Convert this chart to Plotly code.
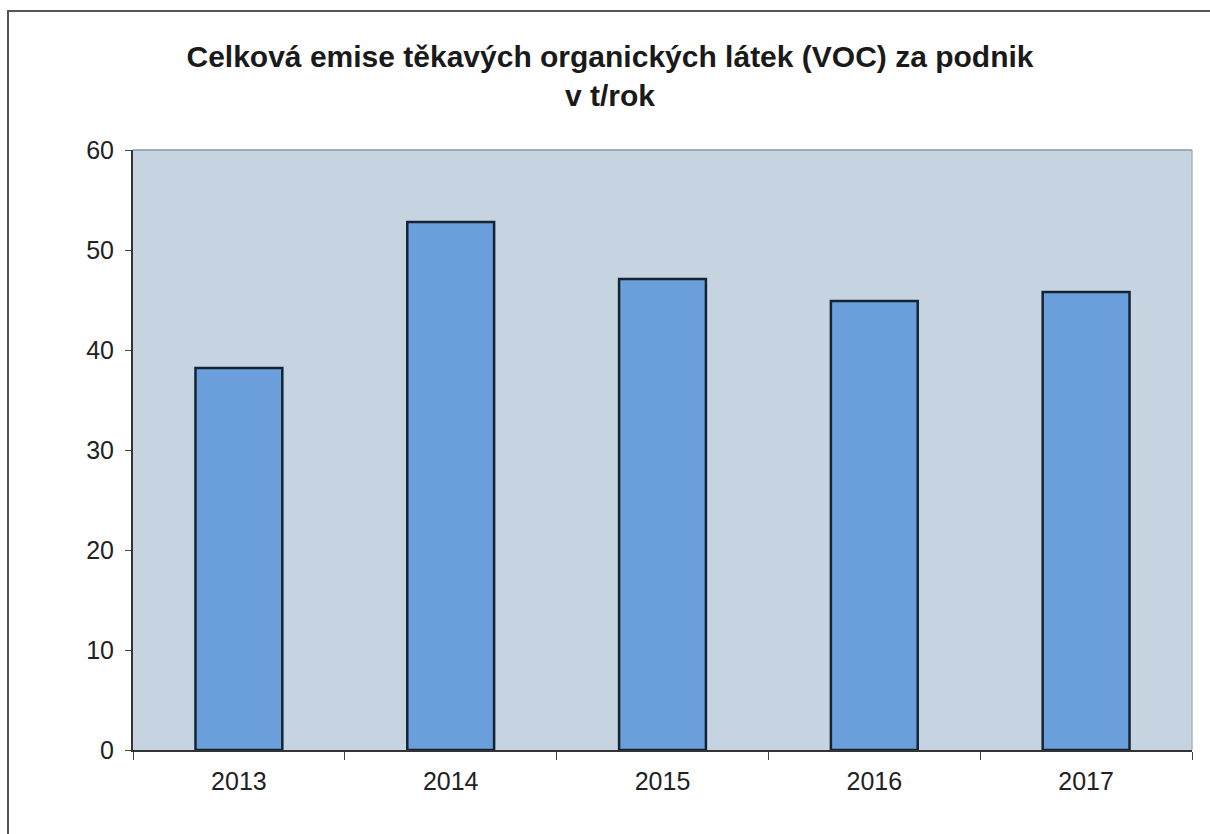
import plotly.graph_objects as go

years = ["2013", "2014", "2015", "2016", "2017"]
emissions = [38.2, 52.8, 47.1, 44.9, 45.8]
y_ticks = [0, 10, 20, 30, 40, 50, 60]

W, H = 1210, 834
L, R, T, B = 133, 18, 150, 84
pw, ph = W - L - R, H - T - B

def px_x(p):
    return (p - L) / pw

def px_y(p):
    return (H - B - p) / ph

fig = go.Figure(go.Bar(
    x=years, y=emissions, width=0.41,
    marker=dict(color="#6a9fdc", line=dict(color="#152433", width=2.5)),
))

fig.update_layout(
    width=W, height=H,
    margin=dict(l=L, r=R, t=T, b=B),
    paper_bgcolor="white",
    plot_bgcolor="#c6d4e1",
    showlegend=False,
    font=dict(family="Liberation Sans, Arial, sans-serif", color="#222222", size=25),
    title=dict(
        text="<b>Celková emise těkavých organických látek (VOC) za podnik<br>v t/rok</b>",
        x=610 / W, xanchor="center", y=1 - 67 / H, yanchor="top",
        font=dict(size=30, color="#1a1a1a"),
    ),
    xaxis=dict(
        type="category", tickson="boundaries", ticks="outside", ticklen=8,
        tickcolor="#444", showline=True, linecolor="#333", linewidth=2,
        showgrid=False, ticklabelstandoff=8,
    ),
    yaxis=dict(
        range=[0, 60], tickvals=y_ticks, ticks="outside", ticklen=6,
        tickcolor="#444", showline=True, linecolor="#333", linewidth=2,
        showgrid=False, zeroline=False, ticklabelstandoff=6,
    ),
    shapes=[
        dict(type="line", xref="paper", yref="paper", x0=0, x1=1, y0=1, y1=1,
             line=dict(color="#8a97a3", width=1.5)),
        dict(type="line", xref="paper", yref="paper", x0=1, x1=1, y0=0, y1=1,
             line=dict(color="#a9b5c0", width=1.5)),
        dict(type="rect", xref="paper", yref="paper",
             x0=px_x(8), x1=px_x(1216), y0=px_y(11), y1=px_y(845),
             line=dict(color="#555555", width=2)),
    ],
)

fig.write_html("out.html")
